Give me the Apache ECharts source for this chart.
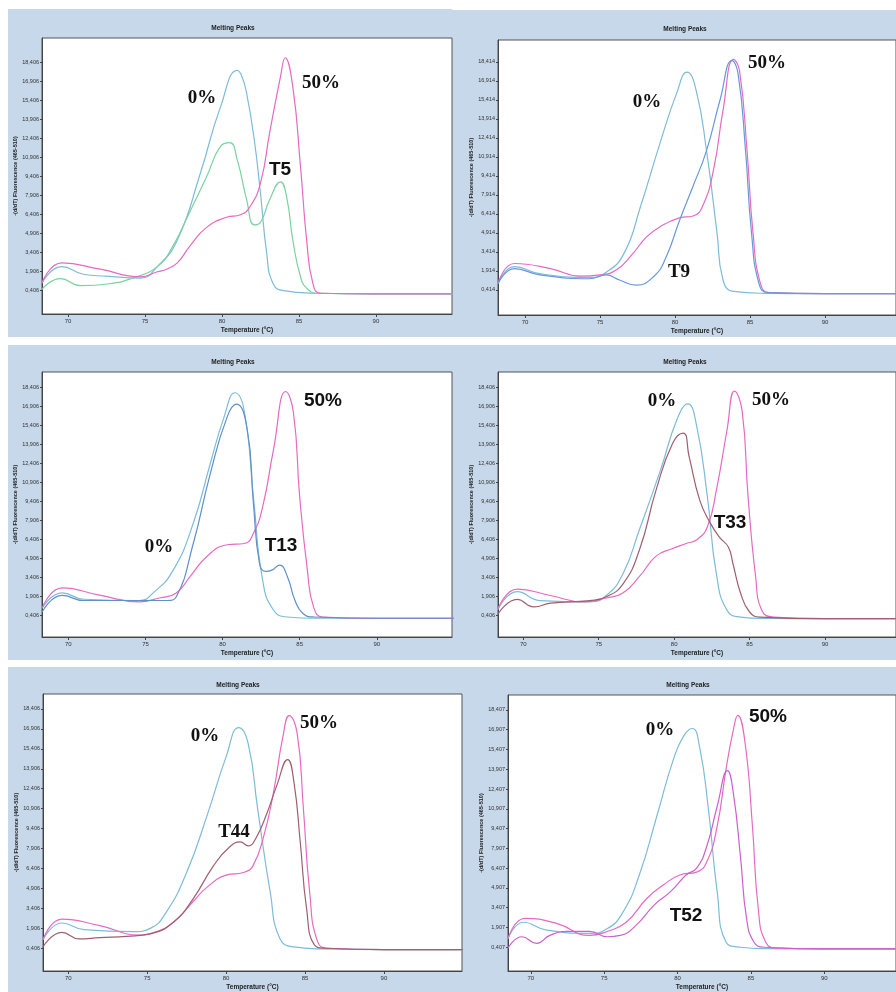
<!DOCTYPE html>
<html><head><meta charset="utf-8">
<script src="https://cdn.jsdelivr.net/npm/echarts@6/dist/echarts.min.js"></script>
<style>html,body{margin:0;padding:0;background:#fff;}#c{width:896px;height:992px;}</style>
</head><body><div id="c"></div>
<script>
// ---------- tick labels ----------
const X_TICKS = [70, 75, 80, 85, 90];
const Y_TICKS_406 = [0.406, 1.906, 3.406, 4.906, 6.406, 7.906, 9.406, 10.906, 12.406, 13.906, 15.406, 16.906, 18.406];
const Y_TICKS_414 = [0.414, 1.914, 3.414, 4.914, 6.414, 7.914, 9.414, 10.914, 12.414, 13.914, 15.414, 16.914, 18.414];
const Y_TICKS_407 = [0.407, 1.907, 3.407, 4.907, 6.407, 7.907, 9.407, 10.907, 12.407, 13.907, 15.407, 16.907, 18.407];

// ---------- series values: [temperature °C, -(d/dT) fluorescence] ----------
// Panel T5
const T5_ZERO = [[68.3,1.0],[69.6,2.3],[71.0,1.7],[72.5,1.55],[74.7,1.4],[75.8,2.3],[77.1,4.4],[78.6,9.7],[79.9,14.9],[81.0,17.8],[81.3,17.3],[81.6,16.0],[82.1,12.3],[82.5,8.1],[82.9,3.4],[83.3,1.0],[84.0,0.4],[86,0.2],[90,0.15],[95,0.15]];
const T5_FIFTY = [[68.3,1.0],[69.6,2.6],[72.1,2.1],[74.7,1.5],[75.8,1.9],[76.4,2.1],[77.1,2.6],[77.9,3.9],[79.0,5.4],[80.3,6.2],[81.2,6.4],[81.8,7.0],[82.5,8.9],[83.1,12.9],[83.8,17.3],[84.1,18.8],[84.6,16.5],[85.1,10.2],[85.5,4.4],[85.9,1.0],[86.4,0.2],[90,0.15],[95,0.15]];
const T5_SAMPLE = [[68.3,0.5],[69.5,1.35],[70.8,0.8],[72.7,0.95],[74.2,1.4],[75.8,2.3],[76.8,3.9],[77.9,6.6],[79.0,9.4],[79.9,11.8],[80.5,12.1],[81.0,10.7],[81.6,7.6],[82.1,5.6],[82.5,5.8],[83.1,7.6],[83.8,9.0],[84.2,7.8],[84.6,4.4],[85.1,1.5],[85.5,0.6],[86.2,0.2],[90,0.15],[95,0.15]];
// Panel T9
const T9_ZERO = [[68.2,0.9],[69.3,2.25],[71.0,1.7],[74.3,1.4],[75.4,1.8],[76.6,3.3],[77.7,7.0],[79.0,12.0],[80.1,15.9],[80.8,17.6],[81.4,16.2],[82.1,11.4],[82.8,4.9],[83.2,1.2],[83.9,0.3],[86,0.15],[90,0.12],[95,0.12]];
const T9_FIFTY = [[68.2,0.9],[69.3,2.5],[71.7,2.1],[73.7,1.5],[75.0,1.6],[76.1,2.0],[77.2,3.3],[78.1,4.6],[79.0,5.4],[80.3,6.1],[81.2,6.25],[81.9,7.2],[82.6,10.1],[83.2,14.6],[83.9,18.6],[84.3,17.7],[84.8,11.4],[85.2,4.9],[85.7,0.9],[86.3,0.2],[90,0.12],[95,0.12]];
const T9_SAMPLE = [[68.2,0.9],[69.3,2.1],[71.0,1.6],[74.3,1.3],[75.4,1.6],[76.3,1.2],[77.4,0.8],[78.6,1.5],[79.4,3.0],[80.3,5.9],[81.2,8.6],[82.1,11.4],[83.0,15.4],[83.8,18.5],[84.2,17.5],[84.7,11.4],[85.1,4.9],[85.6,0.9],[86.2,0.2],[90,0.12],[95,0.12]];
// Panel T13
const T13_ZERO = [[68.3,1.0],[69.6,2.2],[71.0,1.7],[74.6,1.6],[75.5,2.2],[76.8,4.0],[78.1,7.7],[79.2,12.4],[80.1,16.1],[80.8,18.0],[81.4,16.6],[82.0,9.8],[82.6,3.2],[83.3,0.85],[84.2,0.3],[86,0.2],[90,0.2],[95,0.2]];
const T13_SAMPLE = [[68.3,0.7],[69.6,2.0],[71.0,1.6],[74.6,1.6],[76.4,1.6],[77.0,1.9],[78.1,6.1],[79.2,11.6],[80.3,16.1],[80.9,17.1],[81.6,15.1],[82.0,9.3],[82.4,4.5],[82.8,3.9],[83.2,4.0],[83.7,4.4],[84.2,3.5],[84.7,1.6],[85.2,0.6],[85.9,0.3],[90,0.2],[95,0.2]];
const T13_FIFTY = [[68.3,1.0],[69.6,2.6],[72.1,2.0],[74.6,1.5],[75.9,1.8],[77.0,2.2],[77.9,3.5],[79.0,5.1],[80.3,6.0],[81.4,6.1],[82.0,6.9],[82.6,9.0],[83.3,13.5],[84.1,18.1],[84.6,16.4],[85.0,9.8],[85.5,4.0],[85.9,1.1],[86.5,0.3],[90,0.2],[95,0.2]];
// Panel T33
const T33_ZERO = [[68.3,0.9],[69.6,2.3],[71.1,1.6],[74.4,1.5],[75.5,2.0],[76.6,3.7],[77.7,7.2],[79.1,11.9],[80.2,15.9],[80.9,17.1],[81.5,15.3],[82.2,9.8],[82.8,3.7],[83.5,0.85],[84.4,0.3],[86,0.2],[90,0.18],[95,0.18]];
const T33_SAMPLE = [[68.3,0.5],[69.6,1.7],[70.7,1.1],[71.8,1.4],[74.4,1.6],[75.5,1.9],[76.6,2.9],[77.7,5.6],[78.8,10.3],[79.9,14.0],[80.6,14.8],[81.0,12.9],[81.7,9.5],[82.4,7.7],[83.0,6.6],[83.6,5.8],[83.9,4.5],[84.4,2.2],[85.0,0.7],[85.7,0.3],[90,0.18],[95,0.18]];
const T33_FIFTY = [[68.3,0.9],[69.6,2.5],[71.8,2.0],[74.0,1.5],[75.5,1.8],[76.6,2.2],[77.7,3.5],[78.8,5.1],[79.9,5.7],[80.8,6.1],[81.5,6.4],[82.2,7.4],[82.8,10.3],[83.5,15.0],[84.0,18.1],[84.5,16.6],[84.9,9.8],[85.4,3.5],[85.8,0.85],[86.6,0.3],[90,0.18],[95,0.18]];
// Panel T44
const T44_ZERO = [[68.4,1.05],[69.6,2.3],[71.0,1.8],[74.1,1.65],[75.2,1.9],[76.2,3.1],[77.5,6.1],[78.8,10.4],[80.0,14.8],[80.8,17.0],[81.4,15.8],[82.0,10.9],[82.8,4.6],[83.4,1.15],[84.3,0.5],[86,0.35],[90,0.3],[95,0.3]];
const T44_SAMPLE = [[68.4,0.5],[69.6,1.6],[70.7,1.1],[72.0,1.2],[73.7,1.3],[75.2,1.5],[76.7,2.4],[77.9,4.1],[79.2,6.6],[80.2,8.0],[80.9,8.4],[81.4,8.1],[81.9,8.7],[82.6,10.6],[83.2,12.6],[83.9,14.6],[84.3,12.9],[84.7,8.4],[85.1,3.4],[85.6,0.65],[86.3,0.4],[90,0.3],[95,0.3]];
const T44_FIFTY = [[68.4,1.05],[69.6,2.6],[72.0,2.1],[74.5,1.4],[75.6,1.65],[76.7,2.4],[77.9,3.9],[78.8,5.0],[80.0,5.9],[81.1,6.1],[81.7,6.6],[82.4,8.9],[83.0,12.1],[83.6,16.3],[84.0,17.9],[84.5,16.6],[84.9,10.9],[85.3,4.6],[85.8,0.9],[86.5,0.4],[90,0.3],[95,0.3]];
// Panel T52
const T52_ZERO = [[68.45,1.05],[69.5,2.3],[71.1,1.7],[74.0,1.46],[75.2,1.8],[76.3,3.1],[77.4,5.9],[78.6,10.4],[79.7,14.6],[80.4,16.4],[81.0,17.0],[81.5,15.6],[82.1,10.9],[82.7,4.6],[83.3,0.8],[84.3,0.4],[86,0.3],[90,0.28],[95,0.28]];
const T52_FIFTY = [[68.45,1.05],[69.6,2.6],[71.8,2.2],[74.0,1.3],[75.2,1.6],[76.5,2.3],[77.9,4.1],[79.0,5.1],[80.2,5.9],[81.3,6.1],[82.0,6.9],[82.7,9.6],[83.3,13.9],[83.8,16.9],[84.1,18.0],[84.6,15.9],[85.1,9.6],[85.5,3.3],[86.0,0.8],[86.8,0.33],[90,0.28],[95,0.28]];
const T52_SAMPLE = [[68.45,0.33],[69.4,1.2],[70.4,0.7],[71.3,1.3],[72.5,1.6],[74.0,1.6],[75.2,1.2],[76.1,1.3],[77.2,2.1],[78.4,3.6],[79.5,4.6],[80.6,5.9],[81.3,6.4],[82.0,8.1],[82.7,11.1],[83.4,13.8],[83.8,12.1],[84.3,7.1],[84.7,2.6],[85.2,0.8],[85.9,0.4],[90,0.28],[95,0.28]];

// ---------- styles ----------
const C_ZERO = '#7dbcd8', C_FIFTY = '#e56ac4', C_GREEN = '#7ad29e', C_BLUE = '#6898dc',
      C_BLUE2 = '#5f90c8', C_BROWN = '#9e6070', C_MAG = '#cb62cc';
const BG = '#c6d8e9';
const SERIF = '"Liberation Serif","DejaVu Serif",serif';
const SANS = '"Liberation Sans",Arial,sans-serif';

const PANELS = [
  {bg:[8,9,444,328], grid:[42,38,410,276], x:[68.31,94.94], y:[-1.44,20.36], yTicks:Y_TICKS_406, title:[233,28],
   series:[[T5_ZERO,C_ZERO],[T5_SAMPLE,C_GREEN],[T5_FIFTY,C_FIFTY]],
   labels:[['0%',202,98,SERIF],['50%',321,83,SERIF],['T5',280,170,SANS]]},
  {bg:[452,10,444,327], grid:[498,40,398,275], x:[68.2,94.73], y:[-1.56,20.13], yTicks:Y_TICKS_414, title:[685,29],
   series:[[T9_ZERO,C_ZERO],[T9_FIFTY,C_FIFTY],[T9_SAMPLE,C_BLUE]],
   labels:[['0%',647,102,SERIF],['50%',767,63,SERIF],['T9',679,272,SERIF]]},
  {bg:[8,345,444,315], grid:[42,372,410,265], x:[68.29,94.88], y:[-1.28,19.64], yTicks:Y_TICKS_406, title:[233,362],
   series:[[T13_ZERO,C_ZERO],[T13_FIFTY,C_FIFTY],[T13_SAMPLE,C_BLUE2]],
   labels:[['0%',159,547,SERIF],['50%',323,401,SANS],['T13',281,546,SANS]]},
  {bg:[452,345,444,315], grid:[498,372,398,265], x:[68.32,94.71], y:[-1.27,19.61], yTicks:Y_TICKS_406, title:[685,362],
   series:[[T33_ZERO,C_ZERO],[T33_FIFTY,C_FIFTY],[T33_SAMPLE,C_BROWN]],
   labels:[['0%',662,401,SERIF],['50%',771,400,SERIF],['T33',730,523,SANS]]},
  {bg:[8,667,454,325], grid:[43,694,419,279], x:[68.4,94.95], y:[-1.31,19.53], yTicks:Y_TICKS_406, title:[238,685],
   series:[[T44_ZERO,C_ZERO],[T44_FIFTY,C_FIFTY],[T44_SAMPLE,C_BROWN]],
   labels:[['0%',205,736,SERIF],['50%',319,723,SERIF],['T44',234,832,SERIF]]},
  {bg:[462,667,434,325], grid:[508,695,388,278], x:[68.45,94.88], y:[-1.40,19.54], yTicks:Y_TICKS_407, title:[688,685],
   series:[[T52_ZERO,C_ZERO],[T52_FIFTY,C_FIFTY],[T52_SAMPLE,C_MAG]],
   labels:[['0%',660,730,SERIF],['50%',768,717,SANS],['T52',686,916,SANS]]}
];

const grids = [], xAxes = [], yAxes = [], series = [], graphics = [];
PANELS.forEach((p, i) => {
  graphics.push({type:'rect', z:-10, silent:true, shape:{x:p.bg[0], y:p.bg[1], width:p.bg[2], height:p.bg[3]}, style:{fill:BG}});
  graphics.push({type:'text', z:50, silent:true, x:p.title[0], y:p.title[1],
    style:{text:'Melting Peaks', font:'bold 6.5px ' + SANS, fill:'#222', textAlign:'center', textVerticalAlign:'middle'}});
  p.labels.forEach(l => graphics.push({type:'text', z:60, silent:true, x:l[1], y:l[2],
    style:{text:l[0], font:'bold 19px ' + l[3], fill:'#111', textAlign:'center', textVerticalAlign:'middle'}}));
  grids.push({left:p.grid[0], top:p.grid[1], width:p.grid[2], height:p.grid[3], show:true,
    backgroundColor:'#ffffff', borderColor:'#555', borderWidth:1, containLabel:false});
  xAxes.push({type:'value', gridIndex:i, min:p.x[0], max:p.x[1],
    axisLine:{show:true, onZero:false, lineStyle:{color:'#444', width:1}},
    axisTick:{show:true, customValues:X_TICKS, length:3, lineStyle:{color:'#444'}},
    axisLabel:{customValues:X_TICKS, fontSize:6, color:'#333', margin:4, fontFamily:SANS},
    splitLine:{show:false},
    name:'Temperature (°C)', nameLocation:'middle', nameGap:13,
    nameTextStyle:{fontSize:6.5, fontWeight:'bold', color:'#222', fontFamily:SANS}});
  yAxes.push({type:'value', gridIndex:i, min:p.y[0], max:p.y[1],
    axisLine:{show:true, onZero:false, lineStyle:{color:'#444', width:1}},
    axisTick:{show:true, customValues:p.yTicks, length:2, lineStyle:{color:'#444'}},
    axisLabel:{customValues:p.yTicks, fontSize:5.5, color:'#333', margin:3, fontFamily:SANS,
      formatter: v => v.toFixed(3).replace('.', ',')},
    splitLine:{show:false},
    name:'-(d/dT) Fluorescence (465-510)', nameLocation:'middle', nameGap:24, nameRotate:90,
    nameTextStyle:{fontSize:5.5, fontWeight:'bold', color:'#222', fontFamily:SANS}});
  p.series.forEach(s => series.push({type:'line', xAxisIndex:i, yAxisIndex:i, data:s[0],
    smooth:0.5, showSymbol:false, symbol:'none', animation:false,
    lineStyle:{color:s[1], width:1.2}, itemStyle:{color:s[1]}}));
});

const chart = echarts.init(document.getElementById('c'), null, {renderer:'canvas'});
chart.setOption({animation:false, backgroundColor:'#ffffff', grid:grids, xAxis:xAxes, yAxis:yAxes, series:series, graphic:graphics});
</script></body></html>
